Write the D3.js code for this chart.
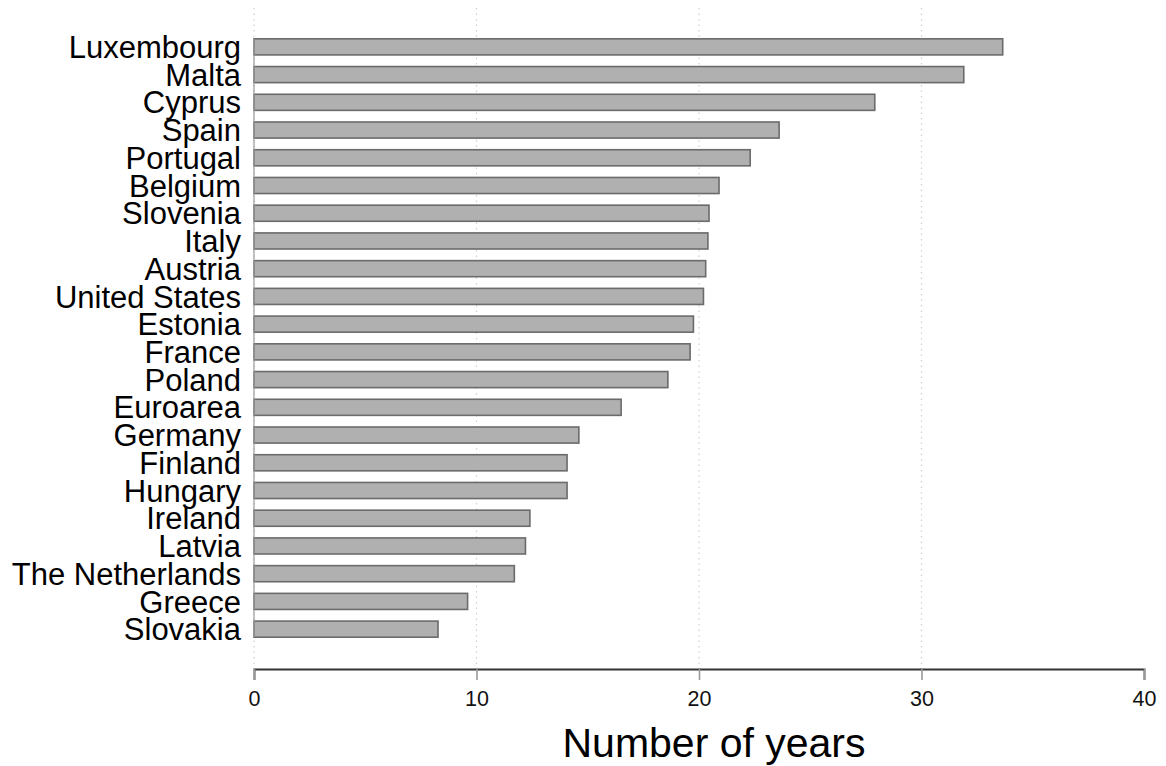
<!DOCTYPE html>
<html><head><meta charset="utf-8">
<script src="https://cdn.jsdelivr.net/npm/d3@7"></script>
<style>body{margin:0;background:#fff}svg{display:block}text{font-family:"Liberation Sans",Arial,sans-serif}</style>
</head><body>
<svg id="c" width="1166" height="766"></svg>
<script>
const categories = ["Luxembourg","Malta","Cyprus","Spain","Portugal","Belgium","Slovenia","Italy","Austria","United States","Estonia","France","Poland","Euroarea","Germany","Finland","Hungary","Ireland","Latvia","The Netherlands","Greece","Slovakia"];
const values = [33.65,31.9,27.9,23.6,22.3,20.9,20.45,20.4,20.3,20.2,19.75,19.6,18.6,16.5,14.6,14.07,14.07,12.4,12.2,11.7,9.6,8.27];
const xTicks = [0,10,20,30,40];
const xTitle = "Number of years";

const svg = d3.select("#c");
const x = d3.scaleLinear().domain([0,40]).range([254,1144]);
const y = d3.scaleBand().domain(categories).range([33,643]).paddingInner(0.42).paddingOuter(0.21);
const axisY = 669;

// gridlines
svg.append("g").selectAll("line").data(xTicks.filter(d=>d<40)).join("line")
  .attr("x1",d=>x(d)).attr("x2",d=>x(d)).attr("y1",8).attr("y2",axisY)
  .attr("stroke","#d0d0d0").attr("stroke-width",1.2).attr("stroke-dasharray","1.5,4");

// bars
svg.append("g").selectAll("rect").data(categories).join("rect")
  .attr("x",x(0)).attr("y",d=>y(d))
  .attr("width",(d,i)=>x(values[i])-x(0)).attr("height",y.bandwidth())
  .attr("fill","#b0b0b0").attr("stroke","#6b6b6b").attr("stroke-width",1.6);

// left edge connecting line
svg.append("line").attr("x1",x(0)).attr("x2",x(0))
  .attr("y1",y(categories[0])).attr("y2",y(categories[categories.length-1])+y.bandwidth())
  .attr("stroke","#9a9a9a").attr("stroke-width",1.2);

// category labels
svg.append("g").selectAll("text").data(categories).join("text")
  .attr("x",x(0)-13).attr("y",d=>y(d)+y.bandwidth()/2)
  .attr("dy","0.36em").attr("text-anchor","end")
  .attr("font-size",31).attr("fill","#000").text(d=>d);

// x axis
const ax = svg.append("g").attr("transform",`translate(0,${axisY})`)
  .call(d3.axisBottom(x).tickValues(xTicks).tickSize(11).tickPadding(11).tickFormat(d3.format("d")));
ax.select(".domain").attr("stroke","#333").attr("stroke-width",1.8);
ax.selectAll(".tick line").attr("stroke","#999").attr("stroke-width",1.6);
ax.selectAll(".tick text").attr("font-size",21.5).attr("fill","#111").attr("font-family","Liberation Sans, Arial, sans-serif");

svg.append("text").attr("x",714).attr("y",757).attr("text-anchor","middle")
  .attr("font-size",41).attr("fill","#000").text(xTitle);
</script>
</body></html>
